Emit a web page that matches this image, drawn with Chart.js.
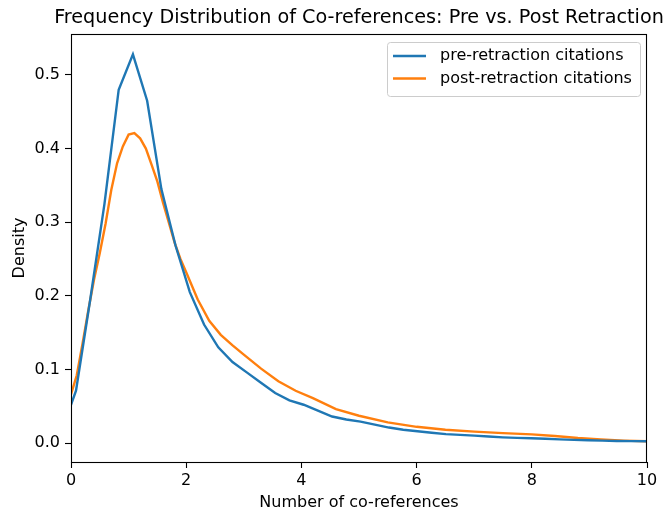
<!DOCTYPE html>
<html>
<head>
<meta charset="utf-8">
<script src="https://cdn.jsdelivr.net/npm/chart.js@4"></script>
<style>
  html, body { margin:0; padding:0; background:#fff; }
  #wrap { width:668px; height:514px; }
</style>
</head>
<body>
<div id="wrap"><canvas id="kde" width="668" height="514"></canvas></div>
<script>
// values
const preX = [0, 0.087, 0.334, 0.581, 0.828, 1.075, 1.322, 1.569, 1.816, 2.063, 2.31, 2.557, 2.804, 3.051, 3.298, 3.545, 3.792, 4.039, 4.286, 4.533, 4.78, 5.027, 5.274, 5.521, 5.768, 6.015, 6.262, 6.509, 6.756, 7.003, 7.25, 7.497, 7.744, 7.991, 8.238, 8.485, 8.732, 8.979, 9.226, 9.473, 9.72, 10];
const preY = [0.052, 0.071, 0.195, 0.325, 0.48, 0.528, 0.465, 0.345, 0.268, 0.205, 0.161, 0.13, 0.11, 0.096, 0.082, 0.068, 0.058, 0.052, 0.044, 0.036, 0.032, 0.029, 0.025, 0.021, 0.018, 0.016, 0.014, 0.012, 0.011, 0.01, 0.0088, 0.0077, 0.007, 0.0064, 0.0057, 0.005, 0.0043, 0.0037, 0.0032, 0.0028, 0.0025, 0.0023];

const postX = [0, 0.1, 0.2, 0.3, 0.4, 0.5, 0.6, 0.7, 0.8, 0.9, 1.0, 1.1, 1.2, 1.3, 1.4, 1.5, 1.6, 1.7, 1.8, 1.9, 2.0, 2.2, 2.4, 2.6, 2.8, 3.0, 3.3, 3.6, 3.9, 4.2, 4.6, 5.0, 5.5, 6.0, 6.5, 7.0, 7.5, 8.0, 8.4, 8.8, 9.2, 9.6, 10];
const postY = [0.066, 0.092, 0.135, 0.18, 0.222, 0.258, 0.298, 0.344, 0.38, 0.403, 0.419, 0.421, 0.414, 0.4, 0.378, 0.355, 0.326, 0.299, 0.272, 0.25, 0.232, 0.195, 0.166, 0.147, 0.133, 0.12, 0.101, 0.084, 0.071, 0.061, 0.046, 0.037, 0.028, 0.022, 0.018, 0.0155, 0.0135, 0.0118, 0.0095, 0.0068, 0.0048, 0.0033, 0.0023];

const seriesNames = ['pre-retraction citations', 'post-retraction citations'];
const xTicks = [0, 2, 4, 6, 8, 10];
const yTicks = [0.0, 0.1, 0.2, 0.3, 0.4, 0.5];

const BLUE = '#1f77b4', ORANGE = '#ff7f0e';
const FONT = 'DejaVu Sans';
const FS = 16;

const pts = (xs, ys) => xs.map((x, i) => ({x, y: ys[i]}));

// title, frame and legend drawn the matplotlib way
const mplDecor = {
  id: 'mplDecor',
  afterDraw(chart) {
    const {ctx, chartArea: a} = chart;
    ctx.save();
    ctx.strokeStyle = '#000';
    ctx.lineWidth = 1.1;
    ctx.strokeRect(Math.round(a.left) + 0.5, Math.round(a.top) + 0.5,
                   Math.round(a.right - a.left) - 1, Math.round(a.bottom - a.top));

    ctx.fillStyle = '#000';
    ctx.font = '19.2px "' + FONT + '"';
    ctx.textAlign = 'center';
    ctx.textBaseline = 'middle';
    ctx.fillText('Frequency Distribution of Co-references: Pre vs. Post Retraction', (a.left + a.right) / 2, 18);

    // legend
    const bx = 387, by = 42, bw = 253, bh = 54;
    ctx.beginPath();
    ctx.roundRect(bx + 0.5, by + 0.5, bw, bh, 3);
    ctx.fillStyle = 'rgba(255,255,255,0.8)';
    ctx.fill();
    ctx.strokeStyle = '#cccccc';
    ctx.lineWidth = 1;
    ctx.stroke();
    ctx.font = FS + 'px "' + FONT + '"';
    ctx.textAlign = 'left';
    chart.data.datasets.forEach((ds, i) => {
      const y = 56 + i * 22.5;
      ctx.strokeStyle = ds.borderColor;
      ctx.lineWidth = 2.4;
      ctx.beginPath();
      ctx.moveTo(393, y);
      ctx.lineTo(426, y);
      ctx.stroke();
      ctx.fillStyle = '#000';
      ctx.fillText(ds.label, 440, y);
    });
    ctx.restore();
  }
};

new Chart(document.getElementById('kde'), {
  type: 'line',
  data: {
    datasets: [
      { label: seriesNames[0], data: pts(preX, preY), borderColor: BLUE, borderWidth: 2.4, pointRadius: 0, tension: 0 },
      { label: seriesNames[1], data: pts(postX, postY), borderColor: ORANGE, borderWidth: 2.4, pointRadius: 0, tension: 0 }
    ]
  },
  options: {
    responsive: false,
    animation: false,
    layout: { padding: { top: 34, right: 21, left: 0, bottom: 0 } },
    plugins: { legend: { display: false }, tooltip: { enabled: false } },
    scales: {
      x: {
        type: 'linear', min: 0, max: 10,
        afterBuildTicks: s => { s.ticks = xTicks.map(v => ({value: v})); },
        afterFit: s => { s.height = 52; },
        grid: { drawOnChartArea: false, tickLength: 6, tickColor: '#000', tickWidth: 1.1 },
        border: { display: false },
        ticks: { color: '#000', font: { family: FONT, size: FS }, padding: 3, maxRotation: 0,
                 callback: v => String(v) },
        title: { display: true, text: 'Number of co-references', color: '#000',
                 font: { family: FONT, size: FS }, padding: { top: 2, bottom: 2 } }
      },
      y: {
        type: 'linear', min: -0.0258, max: 0.5557,
        afterBuildTicks: s => { s.ticks = yTicks.map(v => ({value: v})); },
        afterFit: s => { s.width = 71; },
        grid: { drawOnChartArea: false, tickLength: 6, tickColor: '#000', tickWidth: 1.1 },
        border: { display: false },
        ticks: { color: '#000', font: { family: FONT, size: FS }, padding: 5,
                 callback: v => v.toFixed(1) },
        title: { display: true, text: 'Density', color: '#000',
                 font: { family: FONT, size: FS }, padding: { top: 10, bottom: 4 } }
      }
    }
  },
  plugins: [mplDecor]
});
</script>
</body>
</html>
